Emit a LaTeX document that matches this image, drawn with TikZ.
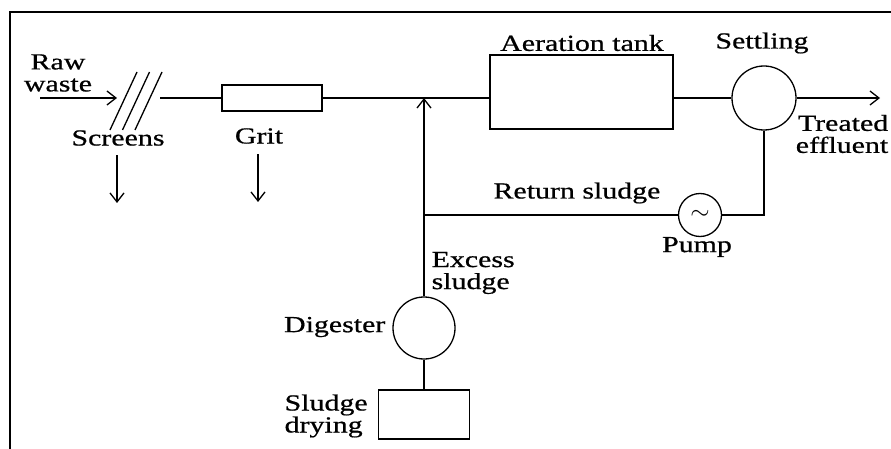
\documentclass[tikz,border=0pt]{standalone}
\usepackage{fontspec}
\setmainfont[FakeStretch=1.3, FakeBold=0.7]{Liberation Serif}
\usepackage{tikz}
\usetikzlibrary{arrows.meta, positioning, calc}

\begin{document}
\begin{tikzpicture}[x=1pt, y=-1pt, >={Straight Barb[length=9pt, width=14pt]},
    line width=1.3pt, font=\fontsize{23}{22}\selectfont,
    unitbox/.style={draw, line width=1.3pt, inner sep=0pt},
    tank/.style={draw, circle, line width=1.3pt, inner sep=0pt},
    tag/.style={inner sep=0pt, align=center}]
    \useasboundingbox (0,0) rectangle (891,449);
    \draw[line width=2.5pt] (891,12) -- (10,12) -- (10,449);

    \node[tag] (raw) at (58,73) {Raw\\waste};
    \coordinate (inlet) at (40,98);
    \coordinate (screen) at (117,98);
    \coordinate (afterscreen) at (160,98);
    \foreach \i in {0,1,2}
        \draw (110+12.5*\i,130) -- ++(27,-58);
    \node[tag] (screenlab) at (118,138) {Screens};
    \coordinate (screenout) at (117,203);

    \node[unitbox, minimum width=100pt, minimum height=26pt] (grit) at (272,98) {};
    \node[tag] (gritlab) at (259,136) {Grit};
    \coordinate (gritout) at (258,202);

    \node[unitbox, minimum width=183pt, minimum height=74pt] (aeration) at (581.5,92) {};
    \node[tag] (aerationlab) at (582,43) {Aeration tank};

    \node[tank, minimum size=64pt] (settling) at (764,98) {};
    \node[tag] (settlinglab) at (762,43) {Settling};
    \coordinate (outlet) at (880,98);
    \node[tag, align=right] (effluent) at (842,134) {Treated\\effluent};

    \node[tank, minimum size=43pt, font=\fontsize{30}{30}\selectfont] (pump) at (700,215) {$\sim$};
    \node[tag] (pumplab) at (697,247) {Pump};
    \node[tag] (returnlab) at (577,193) {Return sludge};
    \coordinate (junction) at (424,215);

    \node[tank, minimum size=62pt] (digester) at (424,328) {};
    \node[tag, anchor=east] (digesterlab) at (386,327) {Digester};
    \node[tag, anchor=west, align=left] (excess) at (431,273) {Excess\\sludge};

    \node[unitbox, minimum width=91pt, minimum height=49pt] (drying) at (424,414.5) {};
    \node[tag, anchor=west, align=left] (dryinglab) at (284,416) {Sludge\\drying};

    \draw[->] (inlet) -- (screen);
    \draw (afterscreen) -- (grit.west);
    \draw (grit.east) -- (grit.east -| aeration.west);
    \draw (aeration.east |- settling.west) -- (settling.west);
    \draw[->] (settling.east) -- (outlet);
    \draw[->] (screenlab.south) ++(-1,9) -- (screenout);
    \draw[->] (gritlab.south) ++(-1,10) -- (gritout);
    \draw (settling.south) |- (pump.east);
    \draw (pump.west) -- (junction);
    \draw[->] (digester.north) -- (digester.north |- grit.east);
    \draw (digester.south) -- (drying.north);
\end{tikzpicture}
\end{document}
